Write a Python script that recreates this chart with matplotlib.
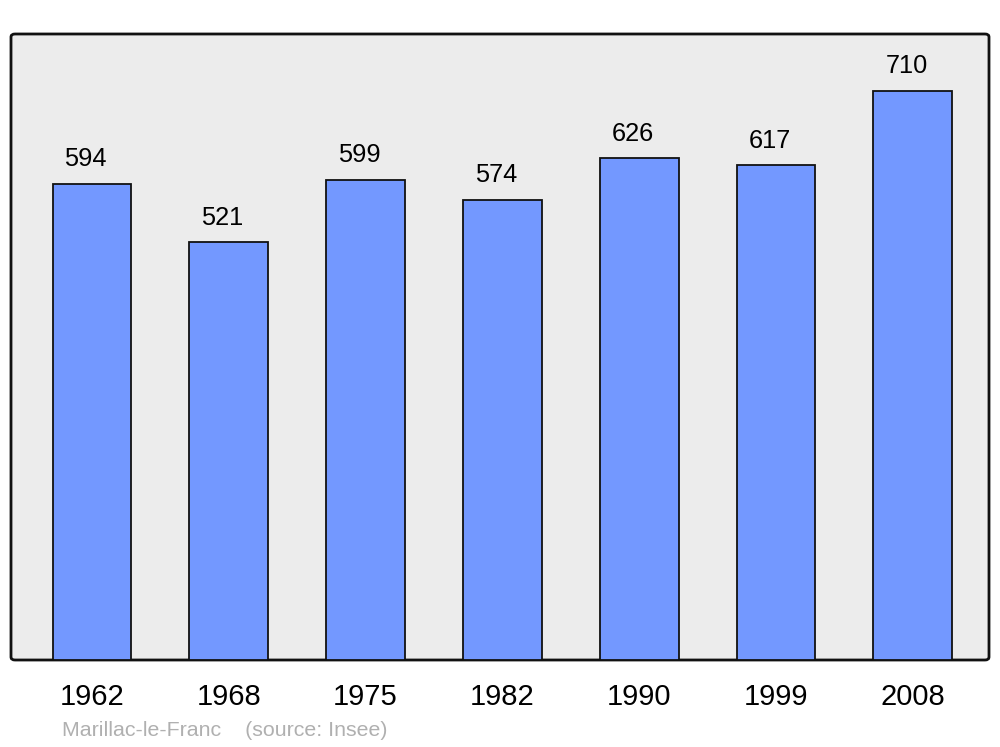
import numpy as np
import matplotlib
matplotlib.use('Agg')
import matplotlib.pyplot as plt
from matplotlib.patches import FancyBboxPatch

years = ['1962', '1968', '1975', '1982', '1990', '1999', '2008']
population = [594, 521, 599, 574, 626, 617, 710]
caption = 'Marillac-le-Franc    (source: Insee)'

plt.rcParams['font.family'] = ['Liberation Sans', 'DejaVu Sans']

W, H = 1000, 747
fig = plt.figure(figsize=(W / 100, H / 100), dpi=100)

# frame with rounded corners, drawn in figure pixels
x0, y0, x1, y1 = 11, 34, 989, 660
frame = FancyBboxPatch((x0 / W, 1 - y1 / H), (x1 - x0) / W, (y1 - y0) / H,
                       boxstyle='round,pad=0,rounding_size=0.004',
                       transform=fig.transFigure, facecolor='#ececec',
                       edgecolor='#111111', linewidth=2.0, zorder=-5)
fig.patches.append(frame)

ax = fig.add_axes([x0 / W, 1 - y1 / H, (x1 - x0) / W, (y1 - y0) / H], zorder=1)
ax.patch.set_visible(False)
for s in ax.spines.values():
    s.set_visible(False)

x = np.arange(len(years))
ax.bar(x, population, width=0.577, color='#7398ff', edgecolor='#111111',
       linewidth=1.3, zorder=2)
ax.set_xlim(-0.592, 6.557)
ax.set_ylim(0, 781)

# value labels sit a little left of the bar centre in the original
for xi, v in zip(x, population):
    ax.annotate(str(v), (xi, v), xytext=(-4.5, 17.8), textcoords='offset points',
                ha='center', va='center', fontsize=18.3, color='black')

ax.set_xticks(x)
ax.set_xticklabels(years, fontsize=21)
ax.tick_params(axis='x', length=0, pad=16.5)
ax.set_yticks([])

fig.text(62 / W, 1 - 730.5 / H, caption, fontsize=15.4, color='#b0b0b0',
         ha='left', va='center')

fig.savefig('out.png', dpi=100)
